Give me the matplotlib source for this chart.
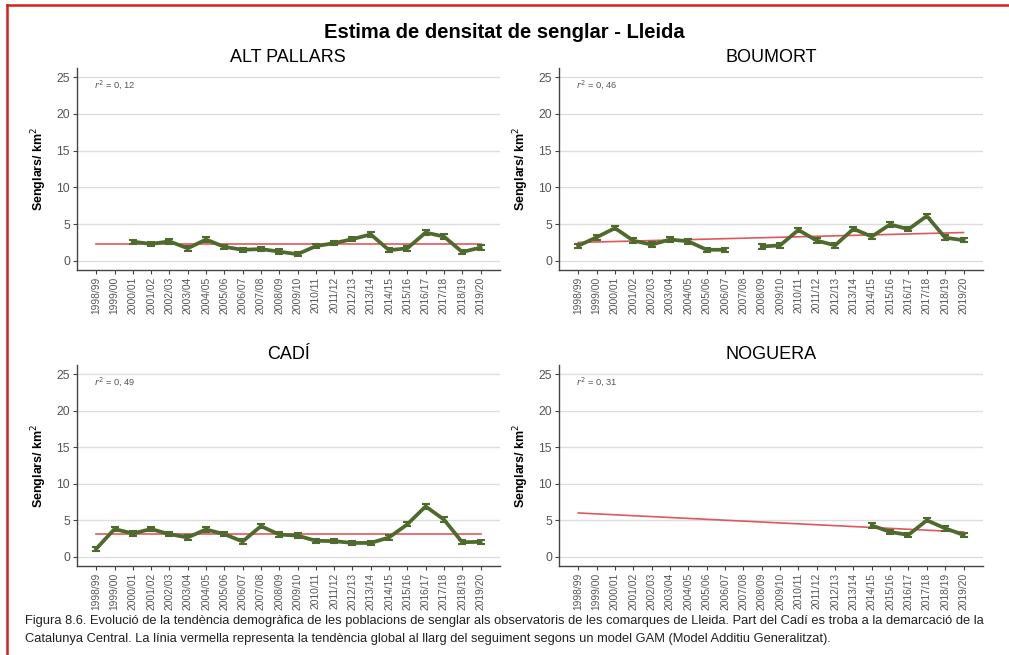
import numpy as np
import matplotlib
matplotlib.use("Agg")
import matplotlib.pyplot as plt
from matplotlib.lines import Line2D

plt.rcParams['font.family'] = ['Liberation Sans', 'DejaVu Sans']

seasons = ["1998/99", "1999/00", "2000/01", "2001/02", "2002/03", "2003/04",
           "2004/05", "2005/06", "2006/07", "2007/08", "2008/09", "2009/10",
           "2010/11", "2011/12", "2012/13", "2013/14", "2014/15", "2015/16",
           "2016/17", "2017/18", "2018/19", "2019/20"]

nan = np.nan
alt_pallars = [nan, nan, 2.6, 2.3, 2.65, 1.7, 2.9, 1.9, 1.5, 1.6, 1.25, 0.9,
               2.0, 2.4, 2.95, 3.6, 1.45, 1.7, 3.85, 3.3, 1.2, 1.8]
boumort = [2.05, 3.2, 4.45, 2.75, 2.2, 2.9, 2.65, 1.5, 1.5, nan, 1.95, 2.1,
           4.2, 2.75, 2.1, 4.35, 3.3, 4.95, 4.3, 6.1, 3.15, 2.8]
cadi = [1.1, 3.8, 3.2, 3.8, 3.1, 2.65, 3.75, 3.1, 2.1, 4.2, 3.05, 2.9,
        2.2, 2.15, 1.9, 1.9, 2.65, 4.45, 6.9, 5.1, 2.0, 2.05]
noguera = [nan] * 16 + [4.3, 3.4, 3.0, 5.0, 3.9, 3.0]

panel_names = ["ALT PALLARS", "BOUMORT", "CADÍ", "NOGUERA"]
panel_data = [alt_pallars, boumort, cadi, noguera]
r2_labels = ["0, 12", "0, 46", "0, 49", "0, 31"]
trend_start = [2.25, 2.5, 3.1, 6.0]
trend_end = [2.25, 3.85, 3.1, 3.4]
err_half = [0.3, 0.3, 0.3, 0.3]

fig = plt.figure(figsize=(10.09, 6.55), dpi=100)

positions = [
    [0.0763, 0.5878, 0.419, 0.3084],
    [0.554, 0.5878, 0.420, 0.3084],
    [0.0763, 0.1359, 0.419, 0.307],
    [0.554, 0.1359, 0.420, 0.307],
]

green = "#4e6a2c"
red = "#e0585c"
x = np.arange(len(seasons))

for i in range(4):
    ax = fig.add_axes(positions[i])
    y = np.array(panel_data[i], dtype=float)
    ax.errorbar(x, y, yerr=err_half[i], color=green, lw=2.7, elinewidth=1.7,
                capsize=3, capthick=1.5, zorder=3)
    ax.plot([x[0], x[-1]], [trend_start[i], trend_end[i]], color=red, lw=1.2,
            zorder=2)
    ax.set_xlim(-1.05, 22.05)
    ax.set_ylim(-1.25, 26.25)
    ax.set_yticks([0, 5, 10, 15, 20, 25])
    ax.set_xticks(x)
    ax.set_xticklabels(seasons, rotation=90, fontsize=7.4, color="#555555")
    ax.tick_params(axis='y', labelsize=8.8, labelcolor="#555555")
    ax.tick_params(length=3, width=0.8, color="#444444", pad=2)
    ax.yaxis.grid(True, color="#dddddd", lw=1.0)
    ax.set_axisbelow(True)
    for s in ["top", "right"]:
        ax.spines[s].set_visible(False)
    for s in ["left", "bottom"]:
        ax.spines[s].set_color("#444444")
        ax.spines[s].set_linewidth(1.0)
    ax.set_title(panel_names[i], fontsize=13, pad=4)
    ax.set_ylabel("Senglars/ km$^2$", fontsize=9, fontweight='bold',
                  labelpad=5)
    ax.text(-0.1, 24, r"$r^2$ = " + r2_labels[i], fontsize=6.7,
            color="#555555", va='center', ha='left')

fig.text(0.5, 0.951, "Estima de densitat de senglar - Lleida", ha='center',
         va='center', fontsize=14.5, fontweight='bold')

caption1 = ("Figura 8.6. Evolució de la tendència demogràfica de les poblacions "
            "de senglar als observatoris de les comarques de Lleida. Part del "
            "Cadí es troba a la demarcació de la")
caption2 = ("Catalunya Central. La línia vermella representa la tendència global "
            "al llarg del seguiment segons un model GAM (Model Additiu "
            "Generalitzat).")
fig.text(25 / 1009, 1 - 621 / 655, caption1, fontsize=9.3, va='center',
         ha='left', color="#222222")
fig.text(25 / 1009, 1 - 639 / 655, caption2, fontsize=9.3, va='center',
         ha='left', color="#222222")

# red frame of the original page (top and left edges visible)
fig.add_artist(Line2D([7 / 1009, 1.0], [1 - 5 / 655, 1 - 5 / 655],
                      transform=fig.transFigure, color="#d42020", lw=1.8))
fig.add_artist(Line2D([7 / 1009, 7 / 1009], [0.0, 1 - 5 / 655],
                      transform=fig.transFigure, color="#d42020", lw=1.8))

fig.savefig("out.png", dpi=100)
